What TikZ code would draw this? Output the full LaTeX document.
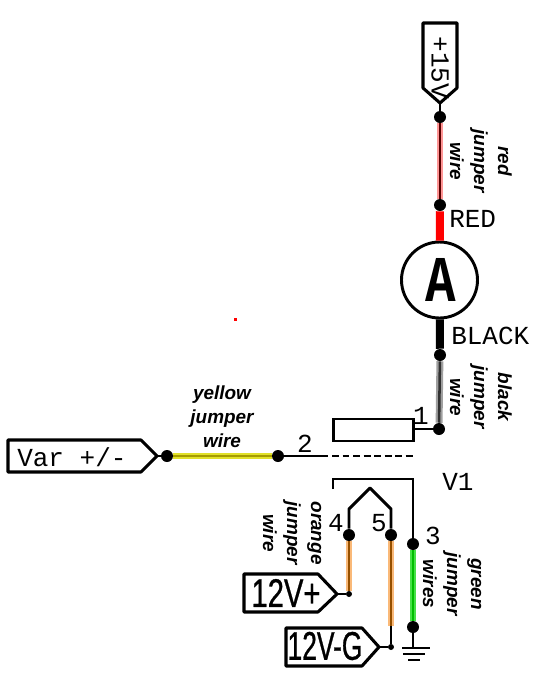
\documentclass[tikz,border=0pt]{standalone}
\usepackage{fontspec}
\setmainfont{Liberation Sans}
\newfontfamily\cadf{Liberation Mono}
\newfontfamily\ampf[FakeStretch=0.78]{Liberation Mono}
\newfontfamily\narrowf[FakeStretch=0.73,FakeBold=0.7]{Liberation Sans}
\newfontfamily\narrowg[FakeStretch=0.66,FakeBold=0.7]{Liberation Sans}
\definecolor{orouter}{RGB}{250,185,120}
\definecolor{orinner}{RGB}{150,80,0}
\definecolor{yeouter}{RGB}{225,225,40}
\definecolor{yeinner}{RGB}{165,155,0}
\definecolor{reouter}{RGB}{255,150,150}
\definecolor{reinner}{RGB}{90,0,0}
\definecolor{grouter}{RGB}{70,225,70}
\definecolor{grinner}{RGB}{0,190,0}
\definecolor{gyouter}{RGB}{160,160,160}
\definecolor{gyinner}{RGB}{50,50,50}
\begin{document}
\begin{tikzpicture}[x=.75pt,y=-.75pt,
  dot/.style={circle,fill=black,inner sep=0pt,minimum size=9pt},
  smalldot/.style={circle,fill=black,inner sep=0pt,minimum size=4.5pt},
  outline/.style={draw=black,line width=2.3pt,line join=round},
  lead/.style={draw=black,line width=2.2pt},
  cad/.style={font=\cadf\fontsize{19.5}{20}\selectfont,inner sep=0pt,text=black},
  big/.style={inner sep=0pt},
  notetext/.style={font=\fontsize{14.2}{18}\selectfont\bfseries\itshape,align=center,inner sep=0pt,text=black},
  note/.style={notetext,rotate=-90},
  wire/.style n args={2}{preaction={draw=#1,line width=5.2pt},draw=#2,line width=1.9pt},
  stub/.style={draw=#1,line width=6pt}]
\useasboundingbox (0,0) rectangle (541,676);
\fill[white] (0,0) rectangle (541,676);
\fill[red] (233.5,317.5) rectangle (236.5,320.5);
% junctions
\node[dot] (p15) at (440,117) {};
\node[dot] (redtop) at (440,205) {};
\node[draw=black,line width=2.2pt,circle,minimum size=57pt,inner sep=0pt] (amm) at (439.5,280) {};
\node[font=\ampf\bfseries\fontsize{49}{49}\selectfont,inner sep=0pt] (ammA) at (440.5,279.5) {A};
\node[dot] (blk) at (440,355) {};
\node[dot] (t1) at (439,429) {};
\node[dot] (vdot) at (167,456) {};
\node[dot] (t2) at (278,456) {};
\node[dot] (t4) at (349,535) {};
\node[dot] (t5) at (391,535) {};
\node[dot] (t3) at (413,544) {};
\node[dot] (gnd) at (413,627) {};
\node[smalldot] (s12) at (349,594) {};
\node[smalldot] (s12g) at (391,647) {};
% +15V
\draw[outline,fill=white] (423,23) -- (457,23) -- (457,88) -- (440,103) -- (423,88) -- cycle;
\coordinate (p15tip) at (440,103);
\node[cad,rotate=-90] (l15) at (440,68) {+15V};
\draw[lead] (p15tip) -- (p15);
% wires top
\draw[wire={reouter}{reinner}] (p15) -- (redtop);
\draw[stub=red] (redtop) -- (amm);
\draw[stub=black] (amm) -- (blk);
\draw[wire={gyouter}{gyinner}] (blk) -- (t1);
\node[cad,anchor=west] (lred) at (449,219) {RED};
\node[cad,anchor=west] (lblack) at (451,336) {BLACK};
% pot
\node[draw=black,line width=2.2pt,minimum width=60.5pt,minimum height=16.5pt,inner sep=0pt] (pot) at (373.5,430) {};
\draw[lead] (pot.east |- t1) -- (t1);
\node[cad] (l1) at (421,416) {1};
% Var
\draw[outline,fill=white] (8,440) -- (141,440) -- (157,456) -- (141,472) -- (8,472) -- cycle;
\coordinate (vtip) at (157,456);
\node[cad,anchor=west] (lvar) at (17,457) {Var +/-};
\draw[lead] (vtip) -- (vdot);
\draw[wire={yeouter}{yeinner}] (vdot) -- (t2);
\coordinate (wiperend) at (328,456);
\coordinate (dashs) at (332,456);
\coordinate (dashe) at (414,456);
\draw[lead] (t2) -- (wiperend);
\draw[lead,dash pattern=on 5.2pt off 2.7pt] (dashs) -- (dashe);
\node[cad] (l2) at (305,444) {2};
% switch
\coordinate (br0) at (333,489);
\coordinate (br1) at (333,479);
\coordinate (br2) at (413,479);
\draw[lead,line join=miter] (br0) -- (br1) -- (br2) -- (t3);
\coordinate (ch1) at (349,509);
\coordinate (ch2) at (370,488);
\coordinate (ch3) at (391,509);
\draw[lead,line join=round] (t4) -- (ch1) -- (ch2) -- (ch3) -- (t5);
\node[cad] (l4) at (336,523) {4};
\node[cad] (l5) at (379,523) {5};
\node[cad] (l3) at (433,536) {3};
\node[cad] (lv1) at (458,482) {V1};
% bottom wires
\coordinate (o2end) at (391,626);
\draw[wire={orouter}{orinner}] (t4) -- (s12);
\draw[wire={orouter}{orinner}] (t5) -- (o2end);
\draw[lead] (o2end) -- (s12g);
\draw[wire={grouter}{grinner}] (t3) -- (gnd);
% 12V+
\draw[outline,fill=white] (244,574) -- (318,574) -- (337,594) -- (318,612) -- (244,612) -- cycle;
\coordinate (v12tip) at (337,594);
\node[big,font=\narrowf\fontsize{30}{30}\selectfont] (l12) at (286,593) {12V+};
\draw[lead] (v12tip) -- (s12);
% 12V-G
\draw[outline,fill=white] (286,628) -- (362,628) -- (379,647) -- (362,666) -- (286,666) -- cycle;
\coordinate (v12gtip) at (379,647);
\node[big,font=\narrowg\fontsize{30}{30}\selectfont] (l12g) at (325,646) {12V-G};
\draw[lead] (v12gtip) -- (s12g);
% ground
\coordinate (g1) at (413,648);
\coordinate (g1a) at (402,648);
\coordinate (g1b) at (430,648);
\coordinate (g2a) at (403,654);
\coordinate (g2b) at (425,654);
\coordinate (g3a) at (408,660);
\coordinate (g3b) at (420,660);
\draw[lead] (gnd) -- (g1);
\draw[lead] (g1a) -- (g1b);
\draw[lead] (g2a) -- (g2b);
\draw[lead] (g3a) -- (g3b);
% notes
\node[note] (nred) at (481,161) {red\\jumper\\wire};
\node[note] (nblack) at (481,397) {black\\jumper\\wire};
\node[notetext] (nyel) at (222,417) {yellow\\jumper\\wire};
\node[note] (norange) at (292,533) {orange\\jumper\\wire};
\node[note] (ngreen) at (452,584) {green\\jumper\\wires};
\end{tikzpicture}
\end{document}
